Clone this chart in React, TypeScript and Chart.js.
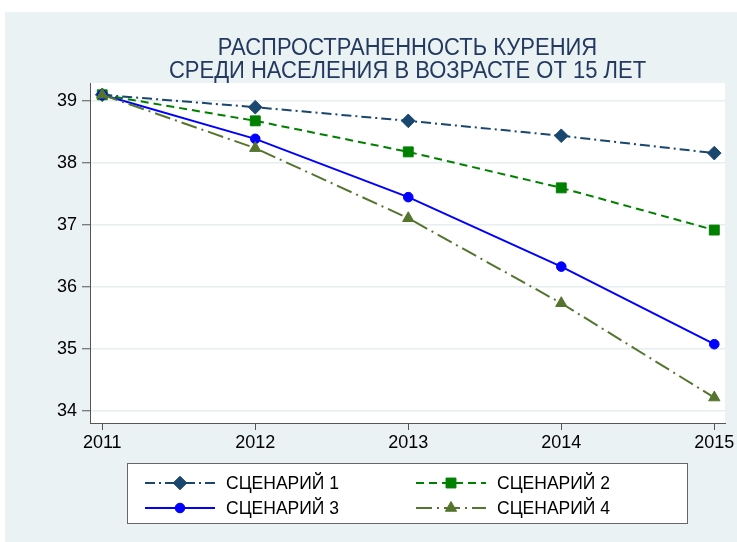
import React, { useEffect, useRef } from 'react';
import { Chart, registerables } from 'chart.js';
import { drawPoint } from 'chart.js/helpers';

Chart.register(...registerables);

const TITLE_LINES = ['РАСПРОСТРАНЕННОСТЬ КУРЕНИЯ', 'СРЕДИ НАСЕЛЕНИЯ В ВОЗРАСТЕ ОТ 15 ЛЕТ'];
const YEARS = [2011, 2012, 2013, 2014, 2015];
const Y_TICKS = [34, 35, 36, 37, 38, 39];
const SERIES_NAMES = ['СЦЕНАРИЙ 1', 'СЦЕНАРИЙ 2', 'СЦЕНАРИЙ 3', 'СЦЕНАРИЙ 4'];
const SCENARIO_1 = [39.1, 38.9, 38.68, 38.44, 38.16];
const SCENARIO_2 = [39.1, 38.68, 38.18, 37.6, 36.92];
const SCENARIO_3 = [39.1, 38.39, 37.45, 36.33, 35.08];
const SCENARIO_4 = [39.1, 38.24, 37.11, 35.74, 34.22];

const FONT = "'Liberation Sans', Arial, sans-serif";
const COLORS = ['#1a476f', '#008000', '#0000ff', '#55752f'];
const DASHES = [[10, 4, 2, 4], [8, 5], [], [16, 5, 2, 5]];
const POINT_STYLES = ['rectRot', 'rect', 'circle', 'triangle'];
const POINT_RADII = [6.8, 7, 4.8, 6.5];

const W = 737;
const H = 542;

const bgPlugin = {
  id: 'bgPlugin',
  beforeDraw(chart: any) {
    const { ctx, chartArea } = chart;
    ctx.save();
    ctx.fillStyle = '#ffffff';
    ctx.fillRect(0, 0, W, H);
    ctx.fillStyle = '#eaf2f3';
    ctx.fillRect(5, 12, W - 5, H - 12);
    ctx.fillStyle = '#ffffff';
    ctx.fillRect(chartArea.left, chartArea.top, chartArea.right - chartArea.left, chartArea.bottom - chartArea.top);
    ctx.restore();
  },
};

const titlePlugin = {
  id: 'titlePlugin',
  afterDraw(chart: any) {
    const { ctx, chartArea } = chart;
    const cx = (chartArea.left + chartArea.right) / 2;
    const baselines = [55, 78];
    ctx.save();
    ctx.font = `22px ${FONT}`;
    ctx.fillStyle = '#24395f';
    ctx.textAlign = 'center';
    ctx.textBaseline = 'alphabetic';
    TITLE_LINES.forEach((t, i) => {
      ctx.save();
      ctx.translate(cx, baselines[i]);
      ctx.scale(1, 1.08);
      ctx.fillText(t, 0, 0);
      ctx.restore();
    });
    ctx.restore();
  },
};

const legendPlugin = {
  id: 'legendPlugin',
  afterDraw(chart: any) {
    const { ctx } = chart;
    ctx.save();
    ctx.fillStyle = '#ffffff';
    ctx.fillRect(127.5, 463.5, 560, 60);
    ctx.strokeStyle = '#666666';
    ctx.lineWidth = 1;
    ctx.setLineDash([]);
    ctx.strokeRect(127.5, 463.5, 560, 60);
    const colX = [145, 416];
    const rowY = [483, 508];
    chart.data.datasets.forEach((ds: any, i: number) => {
      const x0 = colX[i % 2];
      const y = rowY[Math.floor(i / 2)];
      ctx.strokeStyle = ds.borderColor;
      ctx.lineWidth = ds.borderWidth;
      ctx.setLineDash(ds.borderDash || []);
      ctx.beginPath();
      ctx.moveTo(x0, y);
      ctx.lineTo(x0 + 70, y);
      ctx.stroke();
      ctx.setLineDash([]);
      ctx.fillStyle = ds.pointBackgroundColor;
      ctx.strokeStyle = ds.pointBorderColor;
      ctx.lineWidth = 1;
      drawPoint(ctx, { pointStyle: ds.pointStyle, radius: ds.pointRadius, rotation: 0, borderWidth: 1 }, x0 + 35, y);
      ctx.fillStyle = '#000000';
      ctx.font = `17.5px ${FONT}`;
      ctx.textAlign = 'left';
      ctx.textBaseline = 'alphabetic';
      ctx.fillText(SERIES_NAMES[i], x0 + 81, y + 6.3);
    });
    ctx.restore();
  },
};

export default function App() {
  const ref = useRef<HTMLCanvasElement>(null);

  useEffect(() => {
    if (!ref.current) return;
    const series = [SCENARIO_1, SCENARIO_2, SCENARIO_3, SCENARIO_4];
    const datasets = series.map((vals, i) => ({
      label: SERIES_NAMES[i],
      data: YEARS.map((x, j) => ({ x, y: vals[j] })),
      borderColor: COLORS[i],
      backgroundColor: COLORS[i],
      pointBackgroundColor: COLORS[i],
      pointBorderColor: COLORS[i],
      borderWidth: 2,
      borderDash: DASHES[i],
      pointStyle: POINT_STYLES[i],
      pointRadius: POINT_RADII[i],
      pointBorderWidth: 1,
      tension: 0,
      fill: false,
      order: 4 - i,
    }));

    const chart = new Chart(ref.current, {
      type: 'line',
      data: { datasets },
      plugins: [bgPlugin, titlePlugin, legendPlugin],
      options: {
        animation: false,
        responsive: false,
        devicePixelRatio: 1,
        layout: { padding: { left: 0, right: 12, top: 83, bottom: 0 } },
        plugins: { legend: { display: false }, tooltip: { enabled: false }, title: { display: false } },
        scales: {
          x: {
            type: 'linear',
            min: 2010.92,
            max: 2015.07,
            afterBuildTicks: (s: any) => {
              s.ticks = YEARS.map((v) => ({ value: v }));
            },
            afterFit: (s: any) => {
              s.height = H - 423;
            },
            grid: { drawOnChartArea: false, tickLength: 7, tickColor: '#555555', tickWidth: 1 },
            border: { color: '#555555', width: 1 },
            ticks: {
              padding: 2,
              color: '#000000',
              font: { size: 18, family: FONT },
              maxRotation: 0,
              autoSkip: false,
              callback: (v: any) => String(v),
            },
          },
          y: {
            type: 'linear',
            min: 33.81,
            max: 39.29,
            afterBuildTicks: (s: any) => {
              s.ticks = Y_TICKS.map((v) => ({ value: v }));
            },
            afterFit: (s: any) => {
              s.width = 90;
            },
            grid: { color: '#e6eef0', lineWidth: 1.5, tickLength: 8, tickColor: '#555555', tickWidth: 1 },
            border: { color: '#555555', width: 1 },
            ticks: {
              padding: 5,
              color: '#000000',
              font: { size: 18, family: FONT },
              callback: (v: any) => String(v),
            },
          },
        },
      },
    } as any);
    return () => chart.destroy();
  }, []);

  return (
    <div style={{ position: 'absolute', left: 0, top: 0, width: W, height: H }}>
      <canvas ref={ref} width={W} height={H} style={{ display: 'block', width: W, height: H }} />
    </div>
  );
}
